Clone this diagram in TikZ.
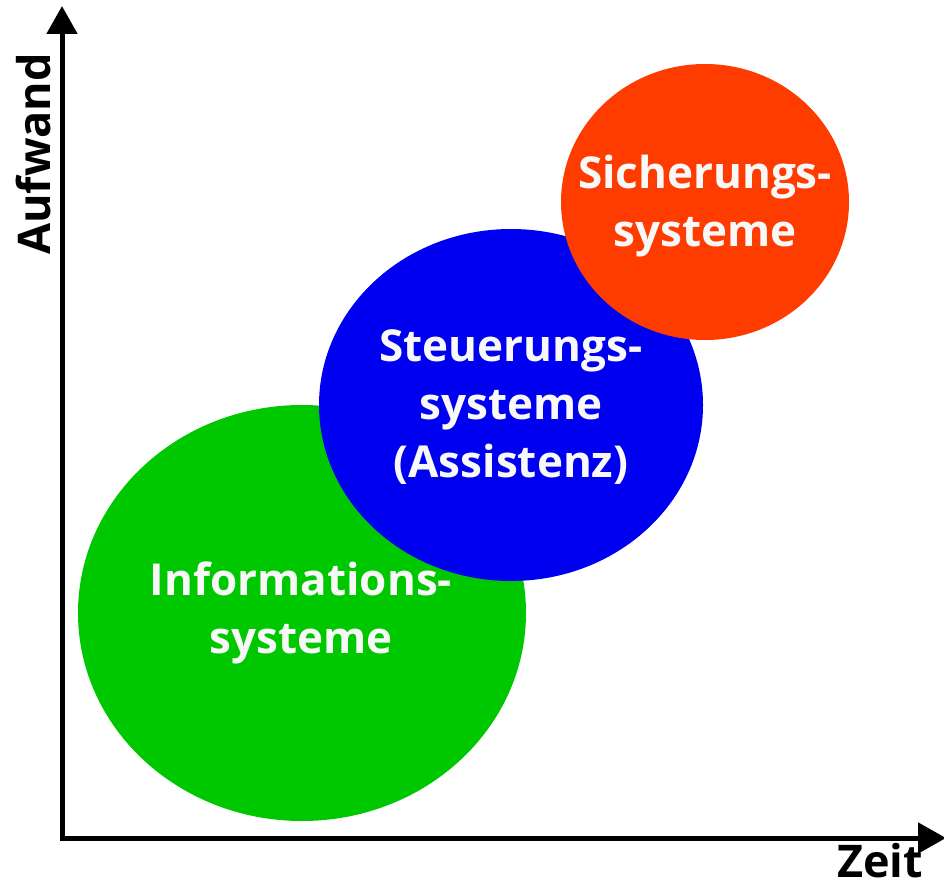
\documentclass[tikz,border=0pt]{standalone}
\usepackage{fontspec}
\setmainfont{Open Sans}
\usetikzlibrary{arrows.meta,calc}
\definecolor{cgreen}{RGB}{0,200,0}
\definecolor{cblue}{RGB}{0,0,240}
\definecolor{cred}{RGB}{255,60,0}
\definecolor{ctext}{RGB}{248,248,248}
\begin{document}
\begin{tikzpicture}[x=1pt,y=-1pt,
  axis/.style={line width=5pt,-{Triangle[length=28pt,width=30pt]}},
  btext/.style={text=ctext,align=center,font=\fontsize{44}{58}\selectfont\bfseries},
  axlabel/.style={font=\fontsize{45}{50}\selectfont\bfseries,inner sep=0pt}]
\useasboundingbox (0,0) rectangle (944,888);
\fill[cgreen] (302,613) ellipse [x radius=224, y radius=208];
\fill[cblue] (511,405) ellipse [x radius=192, y radius=176];
\fill[cred] (705,202) ellipse [x radius=144, y radius=138];
\coordinate (o) at (62,838);
\coordinate (ytop) at (62,6);
\coordinate (xend) at (946,838);
\draw[axis] (o) -- (ytop);
\draw[axis] ($(o)+(-2.5,0)$) -- (xend);
\node[btext] (info) at (301,613) {Informations-\\systeme};
\node[btext] (steu) at (511,407) {Steuerungs-\\systeme\\(Assistenz)};
\node[btext] (sich) at (705,206) {Sicherungs-\\systeme};
\node[axlabel,rotate=90] (aufw) at (34,154) {Aufwand};
\node[axlabel,anchor=base] (zeit) at (880,877) {Zeit};
\end{tikzpicture}
\end{document}
